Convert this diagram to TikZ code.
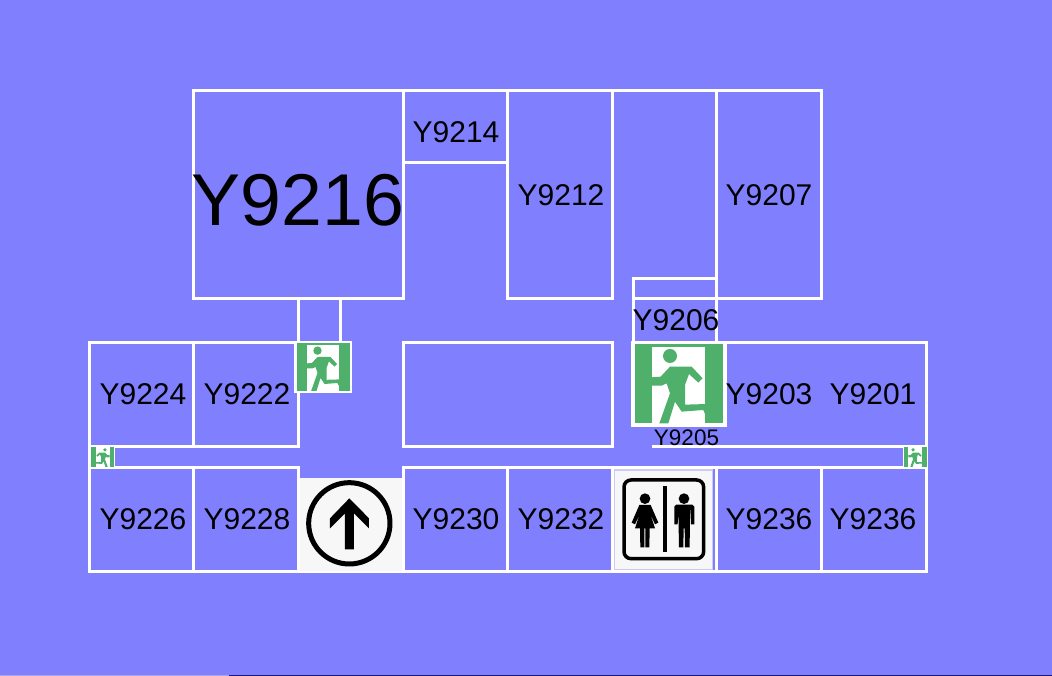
\documentclass[tikz,border=0pt]{standalone}
\usepackage{fontspec}
\setmainfont{Liberation Sans}
\definecolor{bgblue}{HTML}{8080FF}
\definecolor{exitgreen}{HTML}{4FB06C}
\definecolor{navy}{HTML}{1A1A70}
\definecolor{lav}{HTML}{A8A8F0}
\tikzset{
  wall/.style={draw=white,line width=3pt,line cap=rect},
  room/.style={inner sep=0pt,font=\fontsize{30}{30}\selectfont,text=black},
}
\newcommand{\exitsign}{%
  \fill[white] (32,212) rectangle (320,472);
  \fill[exitgreen] (45,222) rectangle (310,460);
  \fill[white] (95,230) rectangle (255,460);
  \fill[exitgreen] (150,258) circle (21);
  \fill[exitgreen] (95,322) -- (122,320) -- (150,290) -- (215,290) -- (248,325) -- (235,338) -- (207,312) -- (195,345) -- (195,404) -- (262,402) -- (285,432) -- (255,432) -- (250,420) -- (185,425) -- (165,395) -- (145,460) -- (118,460) -- (150,370) -- (140,340) -- (125,347) -- (95,347) -- cycle;
}
\begin{document}
\begin{tikzpicture}[x=1pt,y=-1pt]
\useasboundingbox (0,0) rectangle (1052,676);
\fill[bgblue] (0,0) rectangle (1052,676);
\fill[lav] (0,675) rectangle (229,676);
\fill[navy] (229,675) rectangle (1052,676);
% upper block
\draw[wall] (193,91) rectangle (403,299);
\draw[wall] (403,91) -- (821,91) -- (821,299) -- (716,299);
\draw[wall] (403,163) -- (507,163);
\draw[wall] (507,91) -- (507,299) -- (612,299) -- (612,91);
\draw[wall] (716,91) -- (716,342);
\draw[wall] (716,279) -- (633,279) -- (633,342);
\draw[wall] (633,299) -- (716,299);
\draw[wall] (298,299) -- (298,446);
\draw[wall] (340,299) -- (340,342);
% middle row
\draw[wall] (298,342) -- (89,342) -- (89,571);
\draw[wall] (193,342) -- (193,446);
\draw[wall] (89,446) -- (298,446);
\draw[wall] (403,342) rectangle (612,446);
\draw[wall] (716,342) -- (926,342) -- (926,571);
\draw[wall] (653,446) -- (926,446);
% lower row
\draw[wall] (89,467) -- (298,467) -- (298,571);
\draw[wall] (193,467) -- (193,571);
\draw[wall] (403,571) -- (403,467) -- (926,467);
\draw[wall] (507,467) -- (507,571);
\draw[wall] (612,467) -- (612,571);
\draw[wall] (716,467) -- (716,571);
\draw[wall] (821,467) -- (821,571);
\draw[wall] (89,571) -- (926,571);
% exit signs
\begin{scope}[shift={(620,270)},x=0.3333pt,y=-0.3333pt]\exitsign\end{scope}
\begin{scope}[shift={(287.5,299)},x=0.2pt,y=-0.2pt]\exitsign\end{scope}
\begin{scope}[shift={(118,428)},x=-0.0869pt,y=-0.0846pt]\exitsign\end{scope}
\begin{scope}[shift={(900,428)},x=0.0869pt,y=-0.0846pt]\exitsign\end{scope}
% arrow sign
\begin{scope}[shift={(290,460)},x=0.3333pt,y=-0.3333pt]
  \fill[white!97!black] (30,55) rectangle (335,332);
  \draw[black,line width=5pt] (178,190) circle (122);
  \fill[black] (178,115) -- (120,175) -- (120,205) -- (165,160) -- (165,268) -- (192,268) -- (192,160) -- (237,205) -- (237,175) -- cycle;
\end{scope}
% toilet sign
\begin{scope}[shift={(605,460)},x=0.3333pt,y=-0.3333pt]
  \fill[lav!60!white] (27,28) rectangle (325,330);
  \fill[black!3] (31,32) rectangle (321,326);
  \draw[black,line width=3.5pt,rounded corners=7pt,fill=white!97!black] (57,60) rectangle (296,296);
  \fill[black] (175,78) rectangle (186,275);
  % woman
  \fill[black] (120,116) circle (16);
  \fill[black] (103,135) -- (137,135) -- (160,188) -- (150,193) -- (136,162) -- (150,205) -- (134,205) -- (133,262) -- (121,262) -- (121,205) -- (118,205) -- (118,262) -- (106,262) -- (105,205) -- (90,205) -- (104,162) -- (90,193) -- (80,188) -- cycle;
  % man
  \fill[black] (237,116) circle (16);
  \fill[black] (214,134) -- (262,134) -- (268,140) -- (268,193) -- (258,193) -- (256,150) -- (255,150) -- (254,262) -- (240,262) -- (239,205) -- (236,205) -- (235,262) -- (222,262) -- (220,150) -- (218,193) -- (208,193) -- (208,140) -- cycle;
\end{scope}
% labels
\node[room,font=\fontsize{73.4}{74}\selectfont] (r9216) at (298,200) {Y9216};
\node[room] (r9214) at (456,132) {Y9214};
\node[room] (r9212) at (561,195) {Y9212};
\node[room] (r9207) at (769,195) {Y9207};
\node[room] (r9206) at (676,320) {Y9206};
\node[room] (r9224) at (143,394) {Y9224};
\node[room] (r9222) at (247,394) {Y9222};
\node[room] (r9203) at (769,394) {Y9203};
\node[room] (r9201) at (873,394) {Y9201};
\node[room,font=\fontsize{22.5}{23}\selectfont] (r9205) at (686.5,438) {Y9205};
\node[room] (r9226) at (143,519) {Y9226};
\node[room] (r9228) at (247,519) {Y9228};
\node[room] (r9230) at (456,519) {Y9230};
\node[room] (r9232) at (561,519) {Y9232};
\node[room] (r9236a) at (769,519) {Y9236};
\node[room] (r9236b) at (873,519) {Y9236};
\end{tikzpicture}
\end{document}
